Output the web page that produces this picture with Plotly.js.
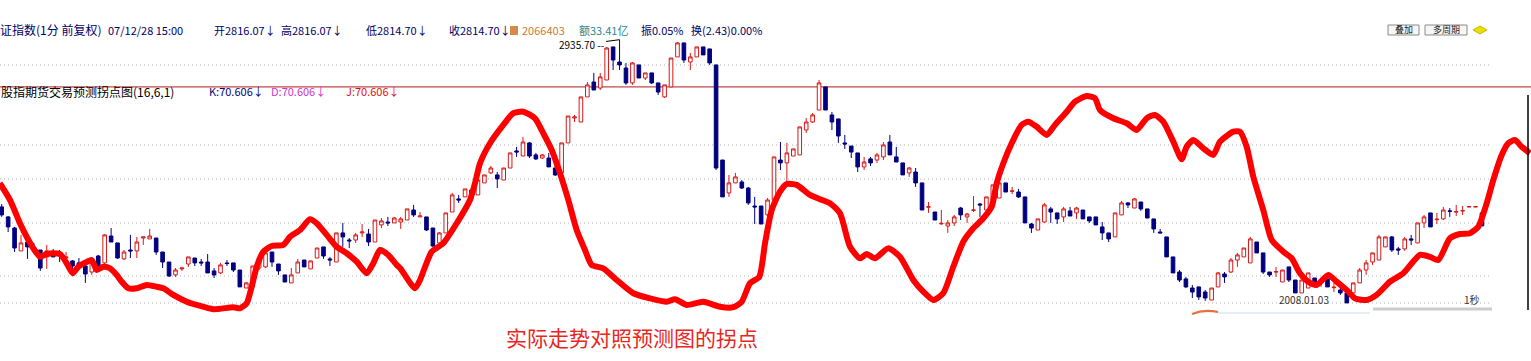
<!DOCTYPE html>
<html>
<head>
<meta charset="utf-8">
<script src="https://cdn.plot.ly/plotly-3.0.1.min.js"></script>
<style>html,body{margin:0;padding:0;background:#fff;}#chart{width:1531px;height:361px;}</style>
</head>
<body>
<div id="chart"></div>
<script>
// ---- Data (1-minute index candles) ----
const openP = [2827.0,2820.5,2813.3,2798.4,2804.2,2801.0,2799.0,2794.5,2797.7,2797.1,
2793.8,2791.9,2790.6,2788.6,2784.7,2795.1,2790.6,2808.1,2803.6,2793.2,
2799.0,2798.4,2806.8,2806.2,2806.8,2797.7,2791.2,2782.8,2786.7,2789.9,
2793.8,2791.2,2791.2,2785.4,2784.1,2790.6,2790.6,2786.0,2774.3,2775.0,
2787.3,2788.0,2797.7,2789.9,2782.8,2777.6,2784.1,2792.5,2786.7,2793.8,
2801.0,2793.2,2791.2,2810.1,2805.5,2805.5,2810.1,2809.4,2804.2,2815.3,
2817.2,2816.6,2817.2,2818.5,2825.0,2820.5,2820.5,2813.3,2803.6,2810.1,
2823.7,2832.2,2833.5,2838.0,2834.8,2842.6,2849.1,2847.8,2844.5,2852.3,
2863.4,2860.1,2868.6,2860.8,2858.8,2858.8,2852.3,2849.1,2868.6,2884.8,
2882.2,2898.5,2908.2,2904.3,2909.5,2931.0,2921.2,2917.3,2907.6,2919.3,
2910.8,2914.1,2907.6,2898.5,2905.0,2924.5,2933.6,2921.2,2924.5,2931.0,
2929.7,2919.3,2857.5,2836.1,2842.6,2843.2,2839.3,2827.6,2827.6,2821.8,
2831.5,2857.5,2855.6,2860.1,2860.8,2877.0,2882.2,2890.0,2905.0,2886.8,
2884.2,2868.6,2866.6,2862.1,2853.0,2858.2,2857.5,2859.5,2869.2,2859.5,
2855.6,2849.1,2849.7,2842.6,2826.8,2823.7,2816.0,2814.6,2816.6,2826.3,
2820.5,2824.8,2828.9,2825.0,2831.5,2832.8,2842.6,2837.2,2836.7,2833.5,
2815.9,2812.0,2817.2,2825.7,2823.1,2820.5,2824.4,2823.1,2825.0,2820.5,
2820.5,2814.0,2810.1,2807.5,2821.8,2829.6,2826.3,2830.2,2825.7,2819.2,
2810.7,2807.5,2794.5,2784.7,2780.2,2774.3,2775.0,2771.7,2766.5,2775.0,
2783.4,2784.7,2792.5,2794.5,2790.6,2804.2,2797.1,2784.7,2784.7,2778.2,
2788.0,2779.5,2771.1,2774.3,2780.8,2778.2,2780.2,2774.5,2773.0,2771.1,
2771.1,2777.6,2786.0,2791.2,2792.5,2801.0,2807.5,2799.7,2799.7,2806.2,
2803.6,2816.6,2823.1,2818.7,2819.2,2824.4,2823.7,2824.4,2827.0,2827.0,
2823.1];
const highP = [2828.9,2821.1,2814.0,2808.8,2808.8,2803.6,2799.0,2802.3,2799.7,2799.0,
2797.7,2792.5,2793.8,2789.3,2791.9,2795.8,2809.4,2813.3,2803.6,2799.0,
2808.8,2807.5,2807.5,2812.7,2806.8,2797.7,2791.2,2787.3,2788.0,2794.5,
2793.8,2793.2,2796.4,2787.3,2790.6,2792.5,2790.6,2786.0,2778.2,2788.6,
2795.8,2799.0,2797.7,2789.9,2782.8,2787.3,2793.2,2792.5,2791.9,2800.3,
2801.0,2794.5,2810.1,2816.6,2806.8,2810.1,2815.9,2812.7,2818.5,2819.8,
2820.5,2820.5,2820.5,2825.7,2828.3,2823.7,2820.5,2813.3,2810.7,2823.1,
2836.1,2834.8,2838.7,2840.0,2844.5,2847.8,2853.6,2849.7,2852.3,2862.1,
2866.0,2872.5,2869.2,2862.1,2861.4,2862.1,2854.3,2868.6,2886.1,2886.8,
2898.5,2908.2,2914.1,2914.1,2931.0,2931.0,2935.7,2920.6,2921.2,2919.3,
2914.1,2914.1,2907.6,2906.3,2923.8,2934.2,2933.6,2927.1,2931.0,2931.0,
2929.7,2919.3,2857.5,2847.8,2849.1,2844.5,2840.0,2833.5,2827.6,2832.8,
2859.5,2869.2,2868.6,2864.7,2879.0,2884.8,2888.1,2909.5,2905.0,2888.7,
2884.2,2873.8,2866.6,2862.1,2859.5,2859.5,2862.1,2869.2,2873.8,2866.0,
2855.6,2853.0,2852.3,2842.6,2830.2,2823.7,2825.0,2818.5,2821.8,2827.0,
2823.1,2834.1,2829.6,2833.5,2841.3,2842.6,2842.6,2840.0,2838.7,2833.5,
2816.6,2819.2,2829.6,2827.0,2823.1,2827.0,2827.0,2827.0,2825.0,2820.5,
2820.5,2817.2,2810.1,2823.1,2830.9,2830.2,2832.8,2830.2,2825.7,2819.2,
2812.7,2807.5,2794.5,2786.0,2781.5,2776.3,2775.0,2773.0,2774.3,2784.7,
2784.7,2793.8,2797.1,2800.3,2807.5,2804.2,2797.1,2784.7,2788.0,2786.0,
2788.0,2779.5,2779.5,2784.1,2780.8,2780.8,2780.2,2777.6,2775.0,2771.1,
2777.6,2787.3,2792.5,2797.1,2808.8,2807.5,2808.1,2801.0,2807.5,2808.8,
2816.6,2821.8,2823.1,2823.1,2827.0,2826.3,2828.3,2827.6,2827.2,2827.2,
2823.7];
const lowP = [2820.5,2810.7,2797.7,2798.4,2793.2,2797.1,2785.4,2786.7,2794.5,2791.2,
2789.3,2786.0,2787.3,2777.6,2782.8,2788.0,2788.6,2804.2,2793.2,2792.5,
2793.8,2793.8,2802.3,2806.2,2795.8,2787.3,2781.5,2781.5,2785.4,2788.0,
2788.6,2788.6,2784.1,2780.8,2783.4,2788.6,2784.7,2775.0,2774.3,2775.0,
2786.0,2787.3,2788.0,2782.8,2778.2,2777.6,2784.1,2788.0,2786.7,2793.8,
2793.2,2788.6,2791.2,2801.0,2800.3,2803.6,2807.5,2801.6,2804.2,2813.3,
2814.6,2816.6,2812.7,2818.5,2820.5,2820.5,2811.4,2801.0,2802.3,2810.1,
2823.7,2829.6,2833.5,2830.2,2834.8,2842.6,2848.4,2839.3,2844.5,2852.3,
2859.5,2860.1,2858.8,2857.5,2858.2,2853.0,2847.1,2849.1,2868.6,2882.2,
2882.2,2898.5,2903.0,2903.0,2909.5,2916.0,2916.0,2906.3,2906.3,2910.8,
2909.5,2906.9,2899.8,2897.8,2905.0,2924.5,2920.6,2916.0,2924.5,2925.8,
2919.3,2851.0,2833.5,2833.5,2842.6,2838.7,2828.3,2815.9,2815.9,2820.5,
2831.5,2851.0,2843.2,2860.1,2860.8,2875.1,2881.6,2890.0,2890.0,2877.0,
2868.6,2864.7,2858.8,2849.7,2851.0,2853.6,2855.6,2857.5,2860.8,2856.2,
2847.8,2846.5,2840.0,2825.0,2823.1,2818.5,2815.3,2810.1,2814.6,2818.5,
2816.6,2823.7,2820.5,2825.0,2831.5,2832.8,2836.7,2835.4,2832.8,2816.6,
2810.1,2812.0,2816.6,2816.6,2815.9,2817.2,2821.1,2819.2,2819.2,2816.6,
2815.3,2805.5,2804.2,2807.5,2821.8,2826.3,2826.3,2824.4,2819.8,2810.1,
2810.1,2794.5,2784.1,2778.2,2774.3,2767.8,2766.5,2765.9,2766.5,2775.0,
2777.6,2784.1,2788.0,2794.5,2790.6,2797.1,2783.4,2781.5,2781.5,2778.2,
2778.2,2771.1,2771.1,2774.3,2776.3,2775.0,2775.0,2771.7,2769.8,2764.6,
2771.1,2777.6,2782.8,2789.3,2792.5,2801.0,2797.7,2795.8,2798.4,2802.3,
2803.6,2813.3,2814.0,2815.9,2818.5,2820.5,2821.1,2821.8,2826.8,2826.8,
2814.7];
const closeP = [2821.8,2814.0,2800.3,2803.6,2801.0,2799.0,2787.3,2798.4,2794.5,2795.1,
2794.5,2788.6,2788.0,2783.4,2791.2,2788.6,2808.8,2804.2,2793.8,2797.7,
2798.4,2804.2,2807.5,2808.1,2797.7,2791.2,2782.1,2786.0,2787.3,2794.5,
2790.6,2790.6,2784.1,2782.8,2789.3,2790.2,2786.0,2775.0,2777.6,2788.6,
2793.8,2797.1,2791.2,2785.4,2778.2,2782.8,2791.2,2788.0,2791.9,2800.3,
2795.1,2792.5,2810.1,2807.5,2804.9,2808.8,2810.7,2804.2,2818.5,2817.9,
2816.6,2819.8,2819.2,2825.7,2821.8,2821.1,2812.0,2801.6,2810.1,2823.1,
2834.8,2831.5,2838.7,2832.8,2844.5,2847.8,2852.3,2845.2,2852.3,2862.1,
2862.7,2869.2,2860.1,2858.2,2860.8,2853.0,2847.8,2868.6,2886.1,2885.5,
2898.5,2906.3,2903.0,2911.5,2930.3,2922.5,2919.3,2907.6,2920.6,2910.8,
2914.1,2907.6,2901.7,2906.3,2923.8,2933.6,2922.5,2924.5,2931.0,2925.8,
2920.6,2852.3,2833.5,2842.6,2846.5,2839.3,2829.6,2827.0,2815.9,2831.5,
2859.5,2855.6,2862.1,2864.7,2879.0,2882.2,2886.8,2907.6,2890.0,2882.2,
2873.1,2867.9,2862.7,2853.0,2856.2,2855.6,2860.8,2867.3,2860.8,2856.2,
2847.8,2852.3,2842.6,2825.0,2827.1,2818.5,2816.3,2816.6,2820.5,2821.8,
2822.4,2825.0,2828.3,2833.5,2841.3,2842.6,2836.7,2837.4,2833.5,2816.6,
2813.3,2819.2,2828.3,2823.7,2819.2,2825.7,2821.1,2826.3,2819.2,2817.9,
2815.3,2810.1,2806.2,2823.1,2829.6,2828.3,2832.2,2825.7,2819.8,2812.7,
2810.1,2794.5,2784.1,2779.5,2775.0,2771.7,2768.5,2767.8,2774.3,2784.1,
2781.5,2792.5,2795.8,2800.3,2806.2,2797.1,2784.7,2782.8,2784.9,2786.0,
2779.5,2771.1,2779.5,2784.1,2776.3,2778.4,2775.0,2774.8,2771.1,2764.6,
2777.6,2786.0,2790.6,2797.1,2807.5,2807.5,2799.0,2799.0,2806.2,2805.5,
2816.6,2820.5,2814.0,2819.0,2825.0,2824.2,2823.9,2824.6,2827.2,2827.2,
2814.7];

// hand-drawn turning-point curve (bar position, index level)
const turnX = [-0.3,1.29,2.84,3.88,4.91,5.95,6.99,8.02,9.06,10.1,
11.03,11.9,12.94,13.98,14.76,15.79,16.83,17.87,18.65,19.67,
20.98,22.53,24.08,25.11,26.66,28.74,30.3,32.88,35.99,37.03,
38.07,38.84,39.62,40.65,41.95,43.75,44.8,46.35,47.9,48.94,
50.5,52.05,53.6,55.16,56.71,57.74,58.78,60.07,61.37,61.89,
64.22,65.0,66.81,68.61,70.7,72.76,73.54,74.32,75.87,77.94,
79.49,81.04,82.86,84.15,85.46,86.75,88.04,89.34,90.63,91.67,
93.47,95.56,98.14,100.73,103.33,104.62,106.43,109.01,111.61,113.67,
114.98,116.27,117.71,118.6,119.64,120.93,121.97,123.52,125.59,127.14,
128.7,130.25,131.81,133.36,134.4,135.69,137.76,139.57,141.64,143.19,
144.75,146.3,147.86,149.41,150.96,152.52,153.82,154.6,155.63,156.93,
158.48,159.51,160.82,162.37,163.66,165.48,166.77,168.58,169.87,170.65,
172.72,174.8,176.35,177.9,179.19,180.48,182.04,183.34,184.12,185.15,
186.7,188.25,189.29,191.36,192.4,193.44,194.47,196.02,197.33,199.13,
200.43,201.72,203.01,204.32,206.12,207.43,208.98,210.27,212.09,213.64,
215.71,217.77,220.36,221.92,223.21,225.03,226.58,228.14,229.43,230.74,
231.76,233.07,234.09,235.13,236.17,237.46];
const turnY = [2842.4,2831.5,2816.4,2807.6,2800.1,2794.6,2796.4,2796.9,2796.4,2790.4,
2783.9,2788.1,2790.7,2792.5,2786.0,2788.1,2787.1,2782.8,2778.4,2774.1,
2774.1,2776.3,2775.1,2774.1,2769.8,2765.4,2763.3,2760.5,2761.8,2761.1,
2764.4,2775.1,2788.1,2797.9,2801.6,2802.3,2807.6,2812.0,2819.0,2816.4,
2808.8,2801.1,2796.9,2791.4,2783.9,2790.4,2799.0,2795.8,2789.3,2787.3,
2774.1,2779.5,2797.9,2803.4,2816.4,2831.5,2842.4,2855.4,2868.4,2880.3,
2887.9,2888.9,2884.6,2874.9,2864.0,2848.9,2831.5,2812.0,2799.0,2789.3,
2787.1,2779.5,2770.9,2767.6,2765.4,2767.0,2763.3,2765.4,2762.1,2761.8,
2765.4,2777.4,2781.6,2803.4,2825.0,2836.9,2841.9,2841.3,2834.8,2832.0,
2829.4,2822.9,2801.1,2793.6,2796.4,2793.6,2800.1,2794.6,2779.5,2771.9,
2766.5,2770.9,2788.1,2804.4,2813.1,2819.6,2827.1,2842.4,2855.4,2868.4,
2880.3,2882.4,2879.1,2873.8,2880.3,2888.9,2895.4,2899.1,2897.6,2890.0,
2884.6,2881.4,2877.0,2884.6,2886.8,2882.4,2869.4,2858.0,2866.1,2870.5,
2865.1,2860.8,2869.4,2875.9,2875.9,2866.1,2846.6,2825.0,2805.5,2797.9,
2793.6,2783.9,2778.4,2776.3,2782.8,2778.4,2773.0,2767.6,2766.5,2769.8,
2778.4,2783.9,2795.8,2794.6,2792.5,2806.6,2809.4,2809.9,2814.1,2829.4,
2844.5,2860.8,2868.4,2870.5,2866.1,2861.9];

const gridLevels = [2919.25, 2867.25, 2845.15, 2816.55, 2782.1, 2764.55];
const refLevel = 2905.0;
const maxHighLabel = "2935.70 --";

// ---- Figure ----
const W = 1531, H = 361;
const px = v => v / W;            // pixel -> paper x
const py = v => 1 - v / H;        // pixel -> paper y
const barIdx = openP.map((_, i) => i);

const candles = {
  type: 'candlestick', x: barIdx, open: openP, high: highP, low: lowP, close: closeP,
  increasing: {line: {color: '#d81818', width: 1}, fillcolor: '#ffffff'},
  decreasing: {line: {color: '#000080', width: 1}, fillcolor: '#000080'},
  whiskerwidth: 0, hoverinfo: 'skip', showlegend: false
};
const turnLine = {
  type: 'scatter', mode: 'lines', x: turnX, y: turnY,
  line: {color: '#ff0000', width: 6, shape: 'spline', smoothing: 0.6},
  hoverinfo: 'skip', showlegend: false
};

const shapes = [];
gridLevels.forEach(g => shapes.push({type: 'line', xref: 'paper', yref: 'y', x0: 0, x1: px(1490), y0: g, y1: g,
  line: {color: '#b4b4b4', width: 1, dash: '1px,3px'}, layer: 'below'}));
shapes.push({type: 'line', xref: 'paper', yref: 'y', x0: 0, x1: 1, y0: refLevel, y1: refLevel,
  line: {color: '#b01c1c', width: 1}, layer: 'below'});
// right border line
shapes.push({type: 'line', xref: 'paper', yref: 'paper', x0: px(1528), x1: px(1528), y0: py(95), y1: py(310),
  line: {color: '#000000', width: 1.5}});
// scrollbar remains at bottom right
shapes.push({type: 'line', xref: 'paper', yref: 'paper', x0: px(1373), x1: px(1492), y0: py(309), y1: py(309),
  line: {color: '#cccccc', width: 3}});
shapes.push({type: 'line', xref: 'paper', yref: 'paper', x0: px(1217), x1: px(1370), y0: py(313), y1: py(313),
  line: {color: '#c8dcec', width: 1}});
shapes.push({type: 'path', xref: 'paper', yref: 'paper',
  path: `M ${px(1192)} ${py(314)} Q ${px(1204)} ${py(309)} ${px(1218)} ${py(312)}`,
  line: {color: '#e8703c', width: 2}});
// header icon and buttons
shapes.push({type: 'rect', xref: 'paper', yref: 'paper', x0: px(510), x1: px(518), y0: py(35), y1: py(26),
  fillcolor: '#d98a4a', line: {width: 0}});
shapes.push({type: 'rect', xref: 'paper', yref: 'paper', x0: px(1388), x1: px(1419), y0: py(35), y1: py(25),
  fillcolor: '#f6f6f6', line: {color: '#8a8a8a', width: 1}});
shapes.push({type: 'rect', xref: 'paper', yref: 'paper', x0: px(1425), x1: px(1467), y0: py(35), y1: py(25),
  fillcolor: '#f6f6f6', line: {color: '#8a8a8a', width: 1}});
shapes.push({type: 'path', xref: 'paper', yref: 'paper',
  path: `M ${px(1473)} ${py(30)} L ${px(1480)} ${py(26)} L ${px(1487)} ${py(30)} L ${px(1480)} ${py(34)} Z`,
  fillcolor: '#e8e000', line: {color: '#c8b800', width: 1}});

const F = '"Noto Sans CJK SC", "Noto Sans", sans-serif';
function txt(x, y, text, color, size, anchor) {
  return {xref: 'paper', yref: 'paper', x: px(x), y: py(y), text: text, showarrow: false, borderpad: 0,
    xanchor: anchor || 'left', yanchor: 'middle', font: {family: F, size: size || 11, color: color}};
}
const annotations = [
  txt(-13, 30, '上证指数(1分 前复权)', '#000066', 12),
  txt(107, 30, '07/12/28 15:00', '#000066', 11),
  txt(213, 30, '开2816.07↓', '#000066', 11),
  txt(280, 30, '高2816.07↓', '#000066', 11),
  txt(365, 30, '低2814.70↓', '#000066', 11),
  txt(448, 30, '收2814.70↓', '#000066', 11),
  txt(521, 30, '2066403', '#d07a30', 11),
  txt(578, 30, '额33.41亿', '#2a8a8a', 11),
  txt(640, 30, '振0.05%', '#000066', 11),
  txt(690, 30, '换(2.43)0.00%', '#000066', 11),
  txt(0, 91, '股指期货交易预测拐点图(16,6,1)', '#000000', 12),
  txt(208, 91, 'K:70.606↓', '#000080', 11),
  txt(270, 91, 'D:70.606↓', '#cc33cc', 11),
  txt(345, 91, 'J:70.606↓', '#e01010', 11),
  txt(1403.5, 30, '叠加', '#222222', 9, 'center'),
  txt(1446, 30, '多周期', '#222222', 9, 'center'),
  txt(1278, 299, '2008.01.03', '#333333', 10),
  txt(1463, 299, '1秒', '#333333', 10),
  txt(632, 337, '实际走势对照预测图的拐点', '#e8261e', 21, 'center'),
  {xref: 'x', yref: 'y', x: 96, y: 2935.7, text: maxHighLabel, showarrow: true, arrowhead: 0,
   arrowwidth: 1, arrowcolor: '#000000', ax: -38, ay: 5, standoff: 0,
   font: {family: F, size: 10, color: '#000000'}}
];

const layout = {
  width: W, height: H, autosize: false,
  margin: {l: 0, r: 0, t: 0, b: 0, pad: 0},
  paper_bgcolor: '#ffffff', plot_bgcolor: '#ffffff',
  showlegend: false, boxgap: 0.2,
  xaxis: {range: [-0.264, 237.62], visible: false, showgrid: false, zeroline: false, fixedrange: true,
          rangeslider: {visible: false}},
  yaxis: {range: [2726.85, 2961.5], visible: false, showgrid: false, zeroline: false, fixedrange: true},
  shapes: shapes, annotations: annotations
};

Plotly.newPlot('chart', [candles, turnLine], layout, {staticPlot: true, displayModeBar: false});
</script>
</body>
</html>
